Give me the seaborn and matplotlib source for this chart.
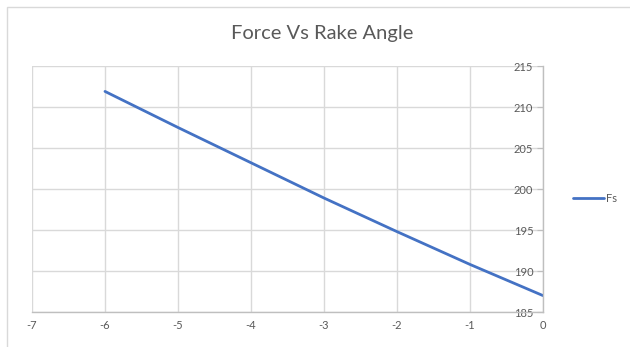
import matplotlib
matplotlib.use("Agg")
import matplotlib.pyplot as plt
import seaborn as sns
import pandas as pd
from matplotlib.patches import Rectangle

# Rake angle (degrees) and shear force Fs
rake_angle = [-6, -5, -4, -3, -2, -1, 0]
fs_values = [211.9, 207.5, 203.2, 198.9, 194.8, 190.8, 187.0]
x_ticks = [-7, -6, -5, -4, -3, -2, -1, 0]
y_ticks = [185, 190, 195, 200, 205, 210, 215]

df = pd.DataFrame({"Rake Angle": rake_angle, "Fs": fs_values})

sns.set_theme(style="white")
plt.rcParams["font.family"] = ["Lato", "DejaVu Sans"]
plt.rcParams["axes.unicode_minus"] = False

W, H, DPI = 630, 347, 100
fig = plt.figure(figsize=(W / DPI, H / DPI), dpi=DPI)
fig.patch.set_facecolor("white")

# chart frame
fig.patches.append(Rectangle((7 / W, -0.1), 1.2, (H - 7) / H + 0.1,
                             transform=fig.transFigure, fill=False,
                             edgecolor="#d9d9d9", linewidth=1.0))

ax = fig.add_axes([32 / W, 1 - 312 / H, (543 - 32) / W, (312 - 66) / H])
sns.lineplot(data=df, x="Rake Angle", y="Fs", ax=ax, color="#4472c4",
             linewidth=2.0, label="Fs", legend=False)

ax.set_xlim(-7, 0)
ax.set_ylim(185, 215)
ax.set_xticks(x_ticks)
ax.set_yticks(y_ticks)
ax.set_xticklabels([str(v) for v in x_ticks])
ax.set_yticklabels([str(v) for v in y_ticks])
ax.set_xlabel("")
ax.set_ylabel("")

ax.grid(True, color="#d9d9d9", linewidth=1.0)
ax.set_axisbelow(True)
for side in ["top", "right"]:
    ax.spines[side].set_visible(False)
ax.spines["left"].set_position(("data", 0))
ax.spines["left"].set_color("#bfbfbf")
ax.spines["bottom"].set_color("#bfbfbf")
ax.spines["left"].set_linewidth(1.0)
ax.spines["bottom"].set_linewidth(1.0)

ax.tick_params(axis="y", left=True, length=4, width=0.8, color="#bfbfbf",
               pad=3, labelsize=8, labelcolor="#595959")
ax.tick_params(axis="x", bottom=False, length=0, pad=6,
               labelsize=8, labelcolor="#595959")

fig.text(322 / W, 1 - 34 / H, "Force Vs Rake Angle", ha="center", va="center",
         fontsize=14.5, color="#595959")

# legend entry
ax_leg = fig.add_axes([0, 0, 1, 1], facecolor="none")
ax_leg.set_axis_off()
ax_leg.set_xlim(0, W)
ax_leg.set_ylim(H, 0)
ax_leg.plot([573, 604], [198, 198], color="#4472c4", linewidth=2.0)
ax_leg.text(606, 198, "Fs", ha="left", va="center", fontsize=8, color="#595959")

fig.savefig("out.png", dpi=DPI)
